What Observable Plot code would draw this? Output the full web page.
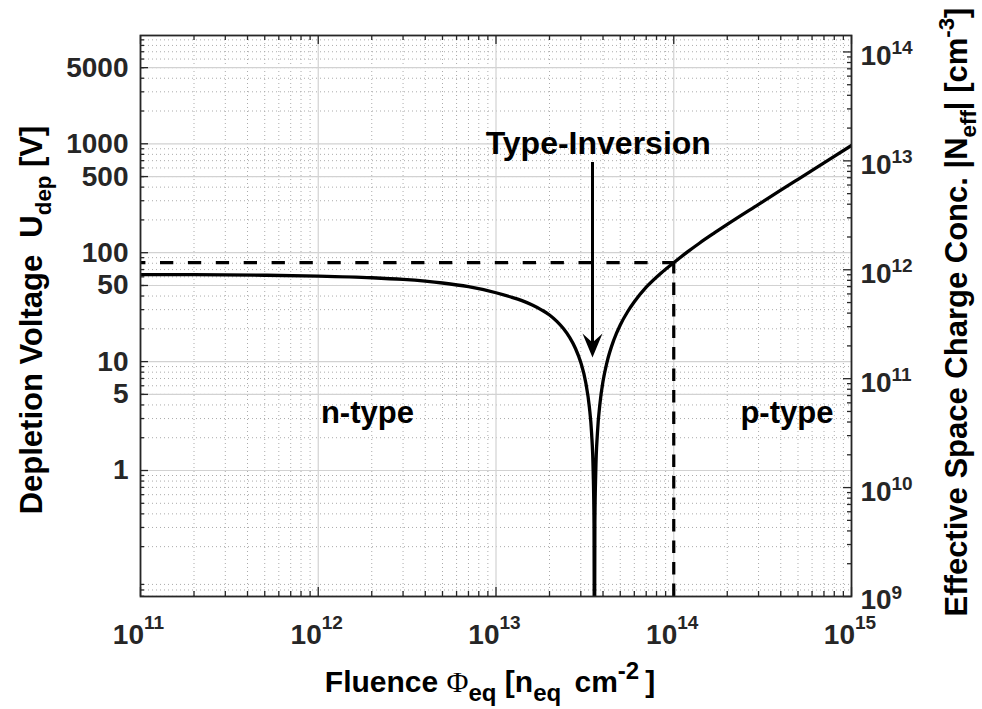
<!DOCTYPE html>
<html>
<head>
<meta charset="utf-8">
<script src="https://cdn.jsdelivr.net/npm/d3@7"></script>
<script src="https://cdn.jsdelivr.net/npm/@observablehq/plot@0.6"></script>
<style>
  body { margin: 0; background: #fff; }
  svg { display: block; }
</style>
</head>
<body>
<div id="chart"></div>
<script>
// Full depletion voltage of a 300 µm sensor versus 1 MeV neutron equivalent fluence
const fluence = [1e11, 2e11, 5e11, 1e12, 2e12, 3e12, 5e12, 7e12, 1e13, 1.2e13,
  1.4e13, 1.6e13, 1.8e13, 2e13, 2.2e13, 2.4e13, 2.6e13, 2.8e13, 3e13, 3.2e13,
  3.35e13, 3.45e13, 3.52e13, 3.56e13, 3.58e13, 3.60e13, 3.64e13, 3.72e13, 3.85e13, 4e13,
  4.2e13, 4.6e13, 5e13, 5.5e13, 6e13, 7e13, 8.5e13, 1e14, 1.2e14, 1.4e14,
  1.7e14, 2e14, 3e14, 4e14, 5e14, 7e14, 1e15];
const depletionVoltage = [63, 62.8, 62.1, 61.0, 58.9, 56.8, 52.7, 48.7, 42.9, 39.4,
  36.3, 33.1, 29.9, 26.8, 23.4, 20.0, 16.6, 13.2, 9.8, 6.4,
  3.85, 2.2, 1.0, 0.33, 0.01, 0.33, 0.95, 2.2, 4.2, 6.6,
  9.7, 15.8, 21.7, 28.7, 35.4, 48.2, 65.2, 81, 102.2, 122.8,
  152.5, 182, 278, 375, 472, 667, 965];

// Left axis (depletion voltage, V)
const voltageDomain = [0.0697, 9870];
const voltageTicks = [1, 5, 10, 50, 100, 500, 1000, 5000];
const voltageLabels = ["1", "5", "10", "50", "100", "500", "1000", "5000"];

// Bottom axis (fluence)
const fluenceDomain = [1e11, 1e15];
const fluenceTicks = [1e11, 1e12, 1e13, 1e14, 1e15];
const fluenceExponents = ["11", "12", "13", "14", "15"];

// Right axis (|Neff|, cm^-3), tied to the voltage axis through U ∝ |Neff|
const neffDomain = [1e9, 1.416e14];
const neffTicks = [1e9, 1e10, 1e11, 1e12, 1e13, 1e14];
const neffExponents = ["9", "10", "11", "12", "13", "14"];

// Marked operating point: U at 1e14 neq/cm²
const referenceFluence = 1e14;
const referenceVoltage = 81;

// Arrow pointing at the type inversion
const inversionFluence = 3.49e13;
const arrowFrom = 673;
const arrowTip = 10.9;

const annotationLabels = ["Type-Inversion", "n-type", "p-type"];
const annotationFluence = [3.76e13, 1.89e12, 4.33e14];
const annotationVoltage = [1000, 3.4, 3.4];

const W = 982, H = 709, mL = 140, mR = 131, mT = 35, mB = 113;
const pw = W - mL - mR, ph = H - mT - mB;
const ink = "#262626";
const font = "'Liberation Sans', Arial, sans-serif";

const toVolt = n => n * voltageDomain[0] / neffDomain[0];
const minorBetween = (lo, hi) =>
  d3.range(Math.floor(Math.log10(lo)), Math.ceil(Math.log10(hi)))
    .flatMap(e => d3.range(2, 10).map(m => m * Math.pow(10, e)))
    .filter(v => v > lo && v < hi);
const xMinor = minorBetween(...fluenceDomain);
const yMinor = minorBetween(...voltageDomain);
const neffMinor = minorBetween(...neffDomain);

// filled, notched arrowhead with its tip at the origin
const arrowHead = {
  draw(context) {
    context.moveTo(0, 0);
    context.lineTo(-10, -24);
    context.lineTo(0, -15);
    context.lineTo(10, -24);
    context.closePath();
  }
};

const minorGrid = {stroke: "#ababab", strokeWidth: 1, strokeDasharray: "1,3"};
const majorGrid = {stroke: "#d2d2d2", strokeWidth: 1.2};
const tick = {stroke: ink, strokeWidth: 1.3};

const chart = Plot.plot({
  width: W, height: H,
  marginLeft: mL, marginRight: mR, marginTop: mT, marginBottom: mB,
  style: {fontFamily: font, fontWeight: "bold", color: ink, background: "#fff", overflow: "visible"},
  x: {type: "log", domain: fluenceDomain, axis: null},
  y: {type: "log", domain: voltageDomain, axis: null},
  marks: [
    // grid
    Plot.ruleX(xMinor, minorGrid),
    Plot.ruleY(yMinor, minorGrid),
    Plot.ruleX(fluenceTicks, majorGrid),
    Plot.ruleY(voltageTicks, majorGrid),

    // inward ticks on all four sides
    Plot.ruleX(fluenceTicks, {...tick, insetTop: ph - 9}),
    Plot.ruleX(fluenceTicks, {...tick, insetBottom: ph - 9}),
    Plot.ruleX(xMinor, {...tick, insetTop: ph - 5}),
    Plot.ruleX(xMinor, {...tick, insetBottom: ph - 5}),
    Plot.ruleY(voltageTicks, {...tick, insetRight: pw - 8}),
    Plot.ruleY(yMinor, {...tick, insetRight: pw - 4}),
    Plot.ruleY(neffTicks, {...tick, y: toVolt, insetLeft: pw - 8}),
    Plot.ruleY(neffMinor, {...tick, y: toVolt, insetLeft: pw - 4}),

    // dashed guides to the operating point
    Plot.ruleY([referenceVoltage], {x1: fluenceDomain[0], x2: referenceFluence, stroke: "#000",
      strokeWidth: 3.2, strokeDasharray: "13.3,14.6", strokeDashoffset: 7.9}),
    Plot.ruleX([referenceFluence], {y1: voltageDomain[0], y2: referenceVoltage, stroke: "#000",
      strokeWidth: 3.2, strokeDasharray: "12.5,9"}),

    // depletion voltage curve
    Plot.line(fluence, {x: fluence, y: depletionVoltage, curve: "monotone-x", stroke: "#000",
      strokeWidth: 3.3, strokeLinejoin: "round", clip: true}),

    // type inversion arrow
    Plot.ruleX([inversionFluence], {y1: arrowFrom, y2: arrowTip * 1.25, stroke: "#000", strokeWidth: 3}),
    Plot.dot([inversionFluence], {x: d => d, y: () => arrowTip, symbol: arrowHead, fill: "#000", stroke: "none"}),

    // annotations
    Plot.text(annotationLabels, {x: annotationFluence, y: annotationVoltage, text: d => d,
      fontSize: (d, i) => i === 0 ? 32 : 31, fontWeight: "bold", fill: "#000", lineAnchor: "middle"}),

    // left tick labels
    Plot.text(voltageTicks, {y: d => d, text: voltageLabels, frameAnchor: "left", textAnchor: "end",
      dx: -12, fontSize: 28, fill: ink, lineAnchor: "middle"}),
    // bottom tick labels: base and exponent
    Plot.text(fluenceTicks, {x: d => d, text: () => "10", frameAnchor: "bottom", textAnchor: "end",
      dx: 3.5, dy: 38.5, fontSize: 28, fill: ink, lineAnchor: "middle"}),
    Plot.text(fluenceTicks, {x: d => d, text: fluenceExponents, frameAnchor: "bottom", textAnchor: "start",
      dx: 3.5, dy: 26.5, fontSize: 19, fill: ink, lineAnchor: "middle"}),
    // right tick labels: base and exponent
    Plot.text(neffTicks, {y: toVolt, text: () => "10", frameAnchor: "right", textAnchor: "start",
      dx: 9, dy: 4, fontSize: 28, fill: ink, lineAnchor: "middle"}),
    Plot.text(neffTicks, {y: toVolt, text: neffExponents, frameAnchor: "right", textAnchor: "start",
      dx: 40, dy: -4, fontSize: 19, fill: ink, lineAnchor: "middle"}),

    Plot.frame({stroke: ink, strokeWidth: 1.8})
  ]
});

document.getElementById("chart").appendChild(chart);

// axis titles with sub- and superscripts
const svg = d3.select(chart);
function axisTitle(x, y, rotate, parts, size, small = 0.72) {
  const t = svg.append("text")
    .attr("transform", `translate(${x},${y})` + (rotate ? ` rotate(${rotate})` : ""))
    .attr("text-anchor", "middle")
    .attr("font-family", font)
    .attr("font-weight", "bold")
    .attr("font-size", size)
    .attr("fill", "#000")
    .style("white-space", "pre");
  let shift = 0;
  for (const p of parts) {
    const s = t.append("tspan").text(p.text);
    const target = p.sub ? 0.3 * size : p.sup ? -0.42 * size : 0;
    if (target !== shift) s.attr("dy", target - shift);
    shift = target;
    if (p.gap) s.attr("dx", p.gap);
    if (p.sub || p.sup) s.attr("font-size", size * small);
    if (p.serif) s.attr("font-family", "'Liberation Serif', serif").attr("font-weight", "normal");
  }
}

axisTitle(42, 320, -90, [
  {text: "Depletion Voltage  U"}, {text: "dep", sub: true}, {text: " [V]"}
], 31);

axisTitle(967, 312, -90, [
  {text: "Effective Space Charge Conc. |N"}, {text: "eff", sub: true},
  {text: "| [cm"}, {text: "-3", sup: true}, {text: "]"}
], 31);

axisTitle(490, 692, 0, [
  {text: "Fluence "}, {text: "Φ", serif: true}, {text: "eq", sub: true},
  {text: " [n"}, {text: "eq", sub: true}, {text: " cm", gap: 5}, {text: "-2", sup: true}, {text: "]", gap: 6}
], 30, 0.8);
</script>
</body>
</html>
